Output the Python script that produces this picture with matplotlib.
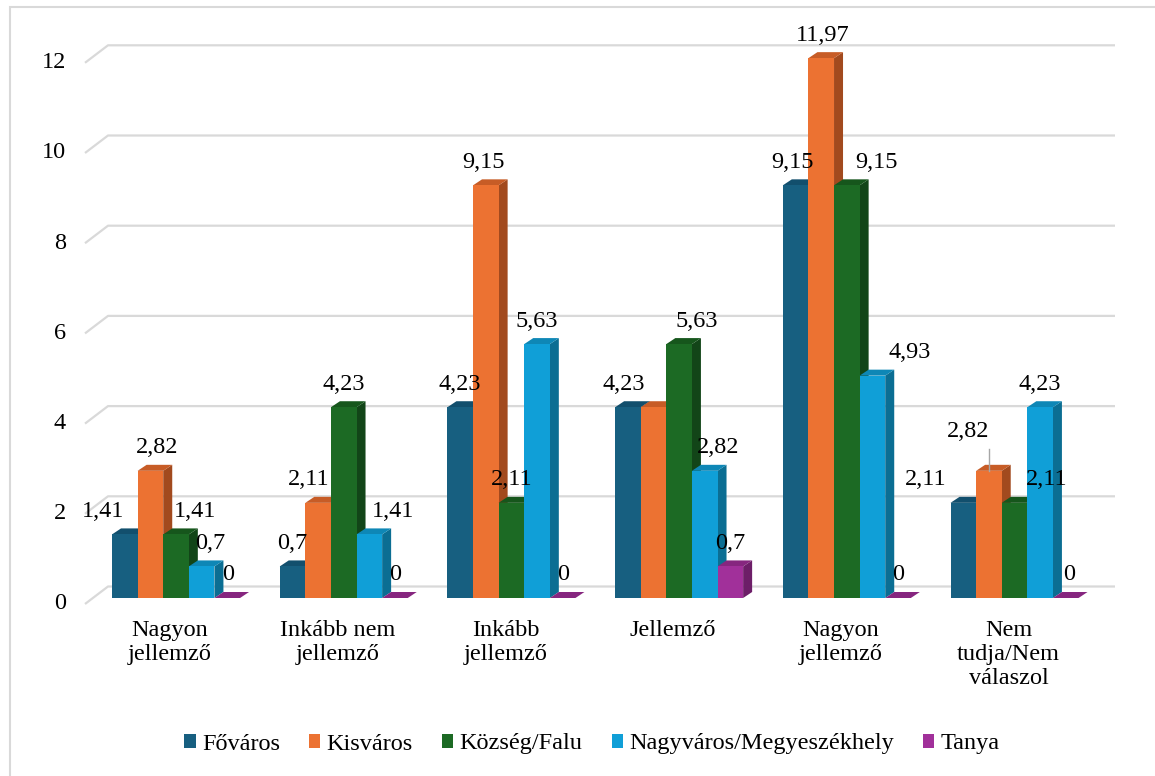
import matplotlib
matplotlib.use('Agg')
import matplotlib.pyplot as plt
from matplotlib.patches import Polygon, Patch, Rectangle

plt.rcParams['font.family'] = 'Liberation Serif'

categories = ['Nagyon\njellemző', 'Inkább nem\njellemző', 'Inkább\njellemző',
              'Jellemző', 'Nagyon\njellemző', 'Nem\ntudja/Nem\nválaszol']
series = ['Főváros', 'Kisváros', 'Község/Falu', 'Nagyváros/Megyeszékhely', 'Tanya']

fovaros = [1.41, 0.7, 4.23, 4.23, 9.15, 2.11]
kisvaros = [2.82, 2.11, 9.15, 4.23, 11.97, 2.82]
kozseg = [1.41, 4.23, 2.11, 5.63, 9.15, 2.11]
nagyvaros = [0.7, 1.41, 5.63, 2.82, 4.93, 4.23]
tanya = [0, 0, 0, 0.7, 0, 0]
values = [fovaros, kisvaros, kozseg, nagyvaros, tanya]

front_colors = ['#175F80', '#EC7232', '#1C6A24', '#109FD7', '#A1309A']
side_colors = ['#0F4560', '#A24A1E', '#124518', '#0B6E93', '#6D1E68']
top_colors = ['#124F6D', '#C75C26', '#16561C', '#0E87B6', '#86267F']

# horizontal nudge of the value labels (pixels), so they don't collide
label_dx = [[-22, 0, 0, -4, -3, -38],
            [7, -9, -2, -30, 2, -21],
            [19, 0, 0, 18, 30, 32],
            [9, 24, 0, 13, 37, 0],
            [1, 0, 0, 0, 0, 3]]

FS = 17.5
px_x = 167.7   # pixels per category
px_y = 45.1    # pixels per unit
w = 25.6 / px_x
depth_x = 9 / px_x
depth_y = 6 / px_y

fig = plt.figure(figsize=(11.55, 7.76), dpi=100)
ax = fig.add_axes([100 / 1155, (776 - 598) / 776, 1020 / 1155, (598 - 20) / 776])
x_lo = -70 / px_x
ax.set_xlim(x_lo, x_lo + 1020 / px_x)
ax.set_ylim(0, 578 / px_y)
ax.set_axis_off()

# back wall gridlines with the little diagonal at the left
gx = [(85 - 170) / px_x, (108 - 170) / px_x, (1115 - 170) / px_x]
for v in range(0, 13, 2):
    ax.plot(gx, [v - 0.133, v + 0.255, v + 0.255], color='#D9D9D9', lw=1.6,
            clip_on=False, zorder=0, solid_capstyle='butt')
    ax.text(-0.62, v - 0.133, str(v), ha='right', va='center', fontsize=FS)

for i in range(len(categories)):
    ax.text(i, -0.49, categories[i], ha='center', va='top', fontsize=FS, linespacing=1.2)
    for j in range(len(series)):
        v = values[j][i]
        x0 = i - 0.3457 + j * w
        z = 2 + (i * 5 + j) * 0.01
        side = Polygon([(x0 + w, 0), (x0 + w + depth_x, depth_y),
                        (x0 + w + depth_x, v + depth_y), (x0 + w, v)],
                       closed=True, fc=side_colors[j], ec='none', zorder=z, clip_on=False)
        top = Polygon([(x0, v), (x0 + depth_x, v + depth_y),
                       (x0 + w + depth_x, v + depth_y), (x0 + w, v)],
                      closed=True, fc=top_colors[j], ec='none', zorder=z, clip_on=False)
        ax.add_patch(side)
        ax.add_patch(top)
        ax.bar(x0, v, width=w, align='edge', color=front_colors[j], zorder=z, clip_on=False)

        # Kisváros label in "Jellemző" sits right under the Főváros one
        if j == 1 and i == 3:
            continue
        txt = ('%g' % v).replace('.', ',')
        cx = x0 + w / 2
        dy = 23
        if j == 1 and i == 5:
            dy = 39
            ax.plot([cx, cx], [v, v + 22 / px_y], color='#A6A6A6', lw=1, zorder=9)
        ax.annotate(txt, xy=(cx, v), xytext=(label_dx[j][i] * 0.72, dy * 0.72),
                    textcoords='offset points', ha='center', va='center', fontsize=FS,
                    zorder=10)

handles = [Patch(facecolor=front_colors[k], label=series[k]) for k in range(5)]
fig.legend(handles=handles, loc='center', bbox_to_anchor=(592 / 1155, 1 - 744 / 776),
           ncol=5, frameon=False, fontsize=FS, handlelength=0.47, handleheight=0.47,
           handletextpad=0.25, columnspacing=1.2)

fig.add_artist(Rectangle((10 / 1155, -0.1), 1.2, (776 - 7) / 776 + 0.1,
                         transform=fig.transFigure, fill=False, ec='#D9D9D9', lw=1.5))

fig.savefig('out.png', dpi=100)
